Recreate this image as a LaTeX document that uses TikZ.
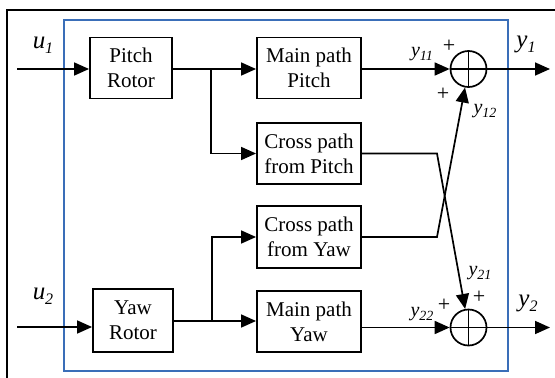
\documentclass[tikz,border=0pt]{standalone}
\usepackage{fontspec}
\setmainfont{Liberation Serif}
\usetikzlibrary{arrows.meta}
\definecolor{frameblue}{RGB}{58,110,184}
% signal names with a lowered subscript
\newcommand{\bigsig}[2]{#1\raisebox{-5pt}{\fontsize{16}{16}\selectfont #2}}
\newcommand{\smallsig}[2]{#1\raisebox{-4pt}{\fontsize{14}{14}\selectfont #2}}
\begin{document}
\begin{tikzpicture}[x=1pt,y=-1pt,
  blk/.style={draw, line width=1.9pt, minimum width=104pt, minimum height=61pt,
    align=center, inner sep=0pt, font=\fontsize{21}{25}\selectfont},
  sum/.style={draw, circle, line width=1.7pt, minimum size=36pt, inner sep=0pt},
  ln/.style={line width=1.7pt},
  arr/.style={line width=1.7pt, -{Triangle[length=15pt,width=13pt]}},
  sig/.style={font=\fontsize{25}{25}\selectfont\itshape, inner sep=0pt},
  sub/.style={font=\fontsize{20}{20}\selectfont\itshape, inner sep=0pt},
  pl/.style={font=\fontsize{22}{22}\selectfont, inner sep=0pt}]
\useasboundingbox (0,0) rectangle (555,378);

% outer frame and system boundary
\draw[line width=2.5pt] (7,390) -- (7,10) -- (570,10);
\draw[frameblue, line width=1.5pt] (64,20) rectangle (508,371);

% blocks
\node[blk, minimum width=82pt] (pr) at (131,68) {Pitch\\Rotor};
\node[blk, minimum width=80pt, minimum height=63pt] (yr) at (133,320.5) {Yaw\\Rotor};
\node[blk] (mp) at (309,68) {Main path\\Pitch};
\node[blk] (cp) at (309,153.5) {Cross path\\from Pitch};
\node[blk, minimum height=62pt] (cy) at (309,237) {Cross path\\from Yaw};
\node[blk] (my) at (309,321.5) {Main path\\Yaw};

% summing junctions
\node[sum] (s1) at (468.5,69) {};
\node[sum] (s2) at (468.5,327.5) {};
\draw[ln] (s1.north) -- (s1.south) (s1.west) -- (s1.east);
\draw[ln] (s2.north) -- (s2.south) (s2.west) -- (s2.east);

% free ends, branch points and kinks
\coordinate (in1) at (17,69);
\coordinate (in2) at (17,327);
\coordinate (out1) at (550,69);
\coordinate (out2) at (550,327.5);
\coordinate (b1) at (211,69);
\coordinate (b2) at (212,321);
\coordinate (k1) at (437,153.5);
\coordinate (k2) at (437,237);

% pitch channel
\draw[arr] (in1) -- (in1 -| pr.west);
\draw[arr] (pr.east |- in1) -- (mp.west |- in1);
\draw[arr] (b1) |- (cp.west);
\draw[arr] (mp.east |- s1) -- (s1.west);
\draw[arr] (s1.east) -- (out1);

% yaw channel
\draw[arr] (in2) -- (in2 -| yr.west);
\draw[arr] (yr.east |- b2) -- (my.west |- b2);
\draw[arr] (b2) |- (cy.west);
\draw[arr] (my.east |- s2) -- (s2.west);
\draw[arr] (s2.east) -- (out2);

% cross couplings
\draw[arr] (cp.east) -- (k1) -- (s2);
\draw[arr] (cy.east) -- (k2) -- (s1);

% signal labels
\node[sig] (lu1) at (43,45) {\bigsig{u}{1}};
\node[sig] (lu2) at (43,296) {\bigsig{u}{2}};
\node[sig] (ly1) at (526,44) {\bigsig{y}{1}};
\node[sig] (ly2) at (528,303) {\bigsig{y}{2}};
\node[sub] (ly11) at (422,54) {\smallsig{y}{11}};
\node[sub] (ly12) at (485,111) {\smallsig{y}{12}};
\node[sub] (ly21) at (480,273) {\smallsig{y}{21}};
\node[sub] (ly22) at (422,314) {\smallsig{y}{22}};

% signs at the junctions
\node[pl] (p11) at (449,46) {+};
\node[pl] (p12) at (443,94) {+};
\node[pl] (p21) at (479,297) {+};
\node[pl] (p22) at (444,305) {+};
\end{tikzpicture}
\end{document}
